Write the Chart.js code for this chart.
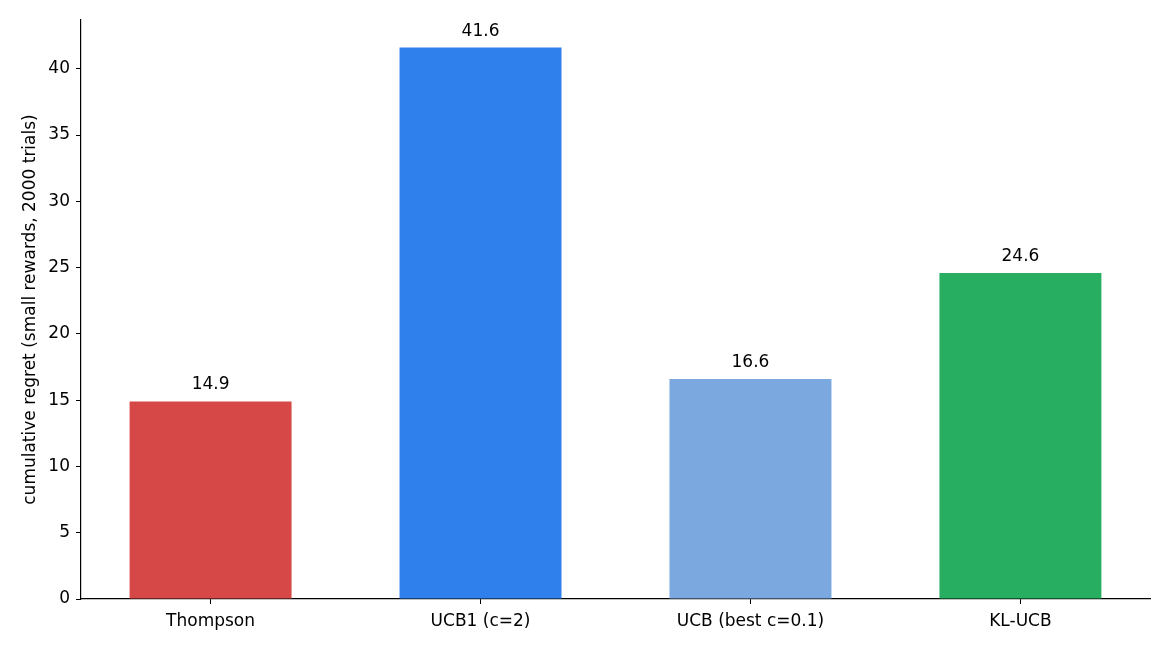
<!DOCTYPE html>
<html>
<head>
<meta charset="utf-8">
<script src="https://cdn.jsdelivr.net/npm/chart.js@4"></script>
<style>
html,body{margin:0;padding:0;background:#fff;}
#wrap{width:1170px;height:650px;}
</style>
</head>
<body>
<div id="wrap"><canvas id="c" width="1170" height="650"></canvas></div>
<script>
const categories = ["Thompson", "UCB1 (c=2)", "UCB (best c=0.1)", "KL-UCB"];
const regretValues = [14.9, 41.6, 16.6, 24.6];
const barColors = ["#d64848", "#2f80ed", "#7aa8df", "#27ae60"];
const yTitle = "cumulative regret (small rewards, 2000 trials)";

const FONT = "'DejaVu Sans', sans-serif";
const FS = 17;

const valueLabels = {
  id: 'valueLabels',
  afterDatasetsDraw(chart) {
    const ctx = chart.ctx;
    const meta = chart.getDatasetMeta(0);
    ctx.save();
    ctx.fillStyle = '#000';
    ctx.font = FS + "px " + FONT;
    ctx.textAlign = 'center';
    ctx.textBaseline = 'alphabetic';
    meta.data.forEach((bar, i) => {
      ctx.fillText(regretValues[i].toFixed(1), bar.x, bar.y - 12);
    });
    ctx.restore();
  }
};

new Chart(document.getElementById('c'), {
  type: 'bar',
  data: {
    datasets: [{
      data: regretValues.map((v, i) => ({x: i, y: v})),
      backgroundColor: barColors,
      borderWidth: 0,
      categoryPercentage: 0.6,
      barPercentage: 1.0
    }]
  },
  options: {
    responsive: false,
    animation: false,
    devicePixelRatio: 1,
    layout: { padding: { left: 0, top: 20, right: 20, bottom: 0 } },
    plugins: { legend: { display: false }, tooltip: { enabled: false } },
    scales: {
      x: {
        type: 'linear',
        offset: false,
        min: -0.48,
        max: 3.48,
        afterBuildTicks(axis) { axis.ticks = categories.map((_, i) => ({value: i})); },
        afterFit(axis) { axis.height = 51; },
        ticks: {
          callback: (v) => categories[v],
          color: '#000',
          font: { family: FONT, size: FS },
          padding: 7,
          maxRotation: 0,
          autoSkip: false
        },
        grid: { offset: false, drawOnChartArea: false, tickLength: 5, color: '#000', lineWidth: 1 },
        border: { color: '#000', width: 1.2 }
      },
      y: {
        min: 0,
        max: 43.68,
        afterFit(axis) { axis.width = 81; },
        ticks: {
          stepSize: 5,
          includeBounds: false,
          color: '#000',
          font: { family: FONT, size: FS },
          padding: 6
        },
        title: {
          display: true,
          text: yTitle,
          color: '#000',
          font: { family: FONT, size: FS },
          padding: { top: 20, bottom: 0 }
        },
        grid: { drawOnChartArea: false, tickLength: 5, color: '#000', lineWidth: 1 },
        border: { color: '#000', width: 1.2 }
      }
    }
  },
  plugins: [valueLabels]
});
</script>
</body>
</html>
